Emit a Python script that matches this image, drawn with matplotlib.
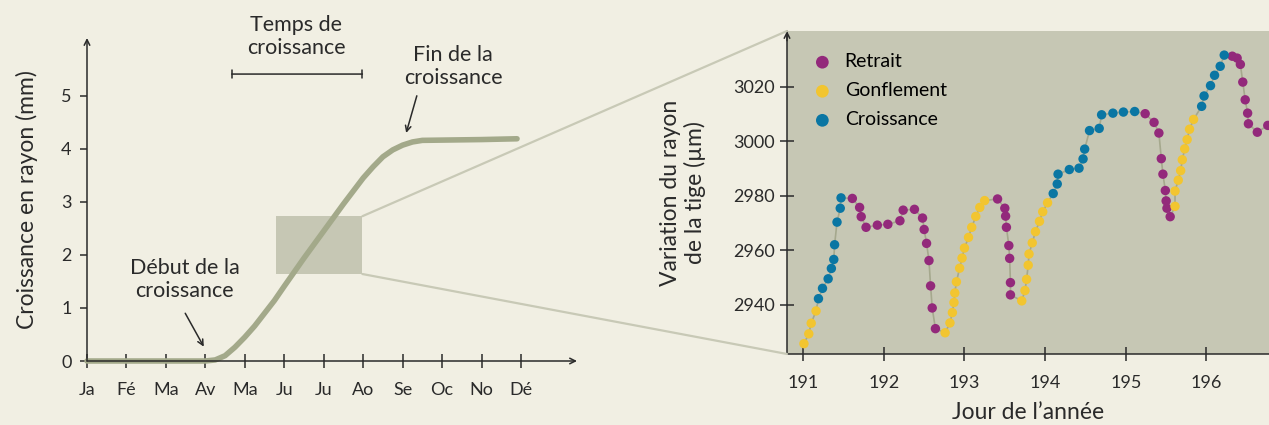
import numpy as np
import matplotlib
matplotlib.use("Agg")
from matplotlib import pyplot as plt
from matplotlib.patches import Rectangle, ConnectionPatch

plt.rcParams['font.family'] = ['Lato', 'DejaVu Sans']

# --- left chart data (month index, radial growth in mm)
months = ["Ja", "Fé", "Ma", "Av", "Ma", "Ju", "Ju", "Ao", "Se", "Oc", "No", "Dé"]
growth_month = [0, 1, 2, 3.0, 3.25, 3.5, 3.75, 4.0, 4.25, 4.5, 4.75, 5.0, 5.5, 6.0, 6.5,
                7.0, 7.25, 7.5, 7.75, 8.0, 8.25, 8.5, 9.0, 10.0, 10.9]
growth_mm = [0, 0, 0, 0, 0.02, 0.1, 0.26, 0.45, 0.66, 0.9, 1.14, 1.41, 1.94, 2.45, 2.96,
             3.45, 3.66, 3.85, 3.98, 4.07, 4.13, 4.16, 4.165, 4.175, 4.19]

# --- right chart data (day of year, stem radius variation in µm, phase)
day = [191.01, 191.07, 191.10, 191.16,
       191.19, 191.24, 191.31, 191.35, 191.38, 191.39, 191.42, 191.46, 191.47,
       191.61, 191.70, 191.72, 191.78, 191.92, 192.05, 192.20, 192.24, 192.38, 192.48,
       192.50, 192.53, 192.56, 192.58, 192.60, 192.64,
       192.76, 192.82, 192.85, 192.87, 192.88, 192.90, 192.94, 192.97, 193.00, 193.05,
       193.09, 193.14, 193.19, 193.25,
       193.41, 193.50, 193.51, 193.52, 193.55, 193.56, 193.57, 193.57,
       193.71, 193.75, 193.77, 193.79, 193.80, 193.84, 193.88, 193.93, 193.97, 194.03,
       194.10, 194.15, 194.16, 194.30, 194.42, 194.47, 194.49, 194.55, 194.67, 194.70,
       194.84, 194.97, 195.11,
       195.24, 195.35, 195.41, 195.44, 195.46, 195.49, 195.50, 195.51, 195.55,
       195.61, 195.61, 195.65, 195.68, 195.70, 195.73, 195.76, 195.79, 195.84,
       195.94, 195.97, 196.05, 196.10, 196.17, 196.22,
       196.32, 196.38, 196.42, 196.45, 196.48, 196.51, 196.52, 196.63, 196.76, 196.86]
radius = [2925.8, 2929.4, 2933.3, 2937.8,
          2942.3, 2946.1, 2949.6, 2953.4, 2956.7, 2962.1, 2970.4, 2975.5, 2979.3,
          2979.1, 2975.8, 2972.4, 2968.5, 2969.3, 2969.6, 2970.9, 2974.8, 2975.1, 2971.9,
          2967.7, 2962.6, 2956.3, 2947.0, 2938.9, 2931.3,
          2929.8, 2933.4, 2937.2, 2940.9, 2944.4, 2948.5, 2953.5, 2957.2, 2960.9, 2964.8,
          2968.5, 2972.5, 2975.8, 2978.3,
          2978.9, 2975.5, 2972.6, 2968.5, 2961.8, 2957.1, 2948.2, 2943.7,
          2941.5, 2945.3, 2949.4, 2954.6, 2958.7, 2962.8, 2966.9, 2970.7, 2974.2, 2977.5,
          2980.9, 2984.4, 2988.0, 2989.7, 2990.2, 2993.6, 2997.2, 3004.0, 3004.8, 3009.8,
          3010.4, 3010.8, 3011.0,
          3010.2, 3007.0, 3003.1, 2993.7, 2988.0, 2982.0, 2978.2, 2975.5, 2972.4,
          2976.2, 2981.8, 2985.8, 2989.3, 2993.3, 2997.3, 3000.7, 3004.5, 3008.1,
          3012.9, 3016.7, 3020.5, 3024.3, 3027.6, 3031.7,
          3031.3, 3030.6, 3028.3, 3021.8, 3015.3, 3010.4, 3006.5, 3003.4, 3005.9, 3008.0]
phase = (["G"] * 4 + ["C"] * 9 + ["R"] * 16 + ["G"] * 14 + ["R"] * 8 + ["G"] * 10
         + ["C"] * 13 + ["R"] * 9 + ["G"] * 9 + ["C"] * 6 + ["R"] * 10)

phase_names = {"R": "Retrait", "G": "Gonflement", "C": "Croissance"}
phase_colors = {"R": "#93297b", "G": "#f2c530", "C": "#0a76a3"}

BG = "#f1efe3"
PANEL = "#c6c7b4"
DARK = "#2a2a2a"

fig = plt.figure(figsize=(12.69, 4.25), dpi=100, facecolor=BG)

# ---------------- left chart ----------------
ax1 = fig.add_axes([87 / 1269, 1 - 361 / 425, 490 / 1269, 323 / 425])
ax1.patch.set_visible(False)
ax1.set_zorder(2)
ax1.set_xlim(0, 12.42)
ax1.set_ylim(0, 6.09)
for s in ax1.spines.values():
    s.set_visible(False)
ax1.annotate("", xy=(12.42, 0), xytext=(0, 0),
             arrowprops=dict(arrowstyle="->", color=DARK, lw=1.1, shrinkA=0, shrinkB=0))
ax1.annotate("", xy=(0, 6.09), xytext=(0, 0),
             arrowprops=dict(arrowstyle="->", color=DARK, lw=1.1, shrinkA=0, shrinkB=0))

ax1.set_xticks(range(len(months)))
ax1.set_xticklabels(months)
ax1.set_yticks(range(6))
ax1.tick_params(axis="x", direction="inout", length=10, width=1.1, color=DARK,
                labelsize=13, pad=10, labelcolor=DARK)
ax1.tick_params(axis="y", direction="out", length=5, width=1.1, color=DARK,
                labelsize=13, pad=6, labelcolor=DARK)
ax1.set_ylabel("Croissance en rayon (mm)", fontsize=16.5, color=DARK, labelpad=17)

# zoom rectangle
ax1.add_patch(Rectangle((4.79, 1.64), 2.19, 1.09, facecolor=PANEL, edgecolor="none", zorder=1))
ax1.plot(growth_month, growth_mm, color="#a3a98a", lw=4, solid_capstyle="round",
         solid_joinstyle="round", zorder=2, clip_on=False)

# annotations
ax1.text(5.31, 6.12, "Temps de\ncroissance", ha="center", va="center", fontsize=15.5,
         color=DARK, linespacing=1.2, clip_on=False)
ax1.annotate("", xy=(3.67, 5.41), xytext=(6.98, 5.41),
             arrowprops=dict(arrowstyle="|-|,widthA=0.3,widthB=0.3", color=DARK, lw=1.1,
                             shrinkA=0, shrinkB=0))
ax1.text(9.28, 5.55, "Fin de la\ncroissance", ha="center", va="center", fontsize=15.5,
         color=DARK, linespacing=1.2)
ax1.annotate("", xy=(8.09, 4.30), xytext=(8.36, 5.0),
             arrowprops=dict(arrowstyle="->", color=DARK, lw=1.1, shrinkA=0, shrinkB=0))
ax1.text(2.47, 1.53, "Début de la\ncroissance", ha="center", va="center", fontsize=15.5,
         color=DARK, linespacing=1.2)
ax1.annotate("", xy=(2.96, 0.27), xytext=(2.49, 0.9),
             arrowprops=dict(arrowstyle="->", color=DARK, lw=1.1, shrinkA=0, shrinkB=0))

# ---------------- right chart ----------------
ax2 = fig.add_axes([787 / 1269, 1 - 354 / 425, 482 / 1269, 323 / 425])
ax2.set_facecolor(PANEL)
ax2.set_xlim(190.80, 196.775)
ax2.set_ylim(2922.0, 3040.55)
for k in ("top", "right"):
    ax2.spines[k].set_visible(False)
for k in ("left", "bottom"):
    ax2.spines[k].set_color(DARK)
    ax2.spines[k].set_linewidth(1.1)
ax2.annotate("", xy=(0, 1.0), xytext=(0, 0.97), xycoords="axes fraction",
             arrowprops=dict(arrowstyle="->", color=DARK, lw=1.1, shrinkA=0, shrinkB=0))

ax2.plot(day, radius, color="#a5a88d", lw=1.2, zorder=2)
day_arr = np.array(day)
rad_arr = np.array(radius)
ph_arr = np.array(phase)
for key in ("R", "G", "C"):
    m = ph_arr == key
    ax2.scatter(day_arr[m], rad_arr[m], s=46, color=phase_colors[key], edgecolor="none",
                zorder=3, label=phase_names[key])

ax2.set_xticks(range(191, 197))
ax2.set_yticks([2940, 2960, 2980, 3000, 3020])
ax2.tick_params(axis="both", direction="inout", length=10, width=1.1, color=DARK,
                labelsize=13, labelcolor=DARK)
ax2.tick_params(axis="x", pad=10)
ax2.set_xlabel("Jour de l’année", fontsize=16.5, color=DARK, labelpad=8)
ax2.set_ylabel("Variation du rayon\nde la tige (µm)", fontsize=16.5, color=DARK,
               labelpad=20, linespacing=1.15)
ax2.legend(loc="upper left", frameon=False, fontsize=14, handletextpad=0.55,
           borderaxespad=0.0, labelspacing=0.62, markerscale=1.35, handlelength=1.2,
           bbox_to_anchor=(0.033, 0.955))

# connector lines from zoom rectangle to right panel
for ya, yb in ((2.73, 1.0), (1.64, 0.0)):
    con = ConnectionPatch(xyA=(6.98, ya), coordsA=ax1.transData,
                          xyB=(0.0, yb), coordsB=ax2.transAxes,
                          color="#c8c9b6", lw=1.6, zorder=1)
    fig.add_artist(con)

fig.savefig("out.png", dpi=100, facecolor=BG)
